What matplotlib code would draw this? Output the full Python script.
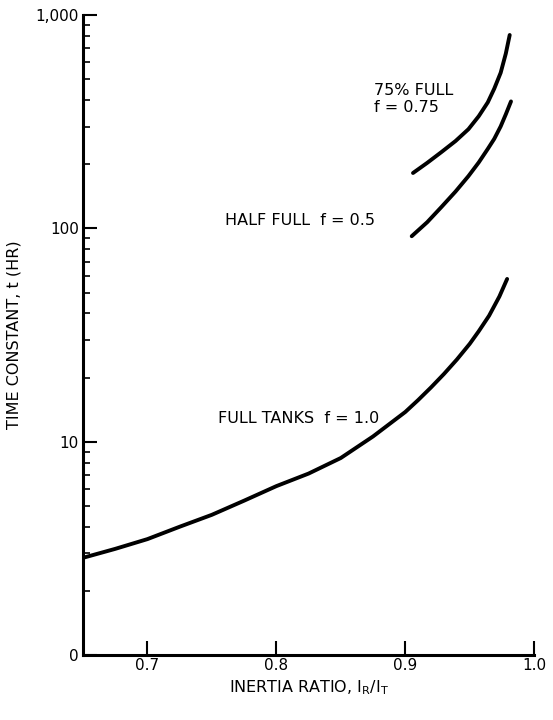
import matplotlib
matplotlib.use('Agg')
import matplotlib.pyplot as plt
from matplotlib.ticker import FixedLocator, FixedFormatter, LogLocator, NullFormatter

# curves (inertia ratio, time constant in hr)
full_x = [0.65, 0.675, 0.70, 0.725, 0.75, 0.775, 0.80, 0.825, 0.85, 0.875,
          0.90, 0.91, 0.92, 0.93, 0.94, 0.95, 0.957, 0.965, 0.973, 0.979]
full_y = [2.86, 3.15, 3.5, 4.0, 4.55, 5.3, 6.2, 7.1, 8.4, 10.6,
          13.8, 15.7, 18.0, 20.8, 24.3, 28.8, 33.0, 39.0, 48.0, 58.0]
half_x = [0.905, 0.917, 0.928, 0.939, 0.949, 0.957, 0.964, 0.969, 0.974, 0.978, 0.982]
half_y = [92, 107, 126, 149, 176, 204, 236, 263, 301, 343, 394]
q75_x = [0.906, 0.917, 0.928, 0.939, 0.949, 0.957, 0.964, 0.969, 0.974, 0.978, 0.981]
q75_y = [182, 203, 228, 257, 292, 336, 390, 452, 537, 661, 807]

xticks = [0.7, 0.8, 0.9, 1.0]
xtick_labels = ['0.7', '0.8', '0.9', '1.0']
yticks = [1, 10, 100, 1000]
ytick_labels = ['0', '10', '100', '1,000']

plt.rcParams['font.family'] = ['DejaVu Sans']

fig = plt.figure(figsize=(5.53, 7.2), dpi=100)
ax = fig.add_axes([0.150, 0.090, 0.816, 0.889])

for xs, ys in [(full_x, full_y), (half_x, half_y), (q75_x, q75_y)]:
    ax.plot(xs, ys, color='black', lw=2.8, solid_capstyle='round', solid_joinstyle='round')

ax.set_yscale('log')
ax.set_xlim(0.65, 1.0)
ax.set_ylim(1, 1000)

ax.xaxis.set_major_locator(FixedLocator(xticks))
ax.xaxis.set_major_formatter(FixedFormatter(xtick_labels))
ax.yaxis.set_major_locator(FixedLocator(yticks))
ax.yaxis.set_major_formatter(FixedFormatter(ytick_labels))
ax.yaxis.set_minor_locator(LogLocator(base=10, subs=range(2, 10)))
ax.yaxis.set_minor_formatter(NullFormatter())

ax.tick_params(axis='both', which='major', direction='in', length=10, width=1.5,
               labelsize=11, pad=3)
ax.tick_params(axis='y', which='minor', direction='in', length=5, width=1.2)
ax.tick_params(axis='x', which='major', pad=2)

for side in ['top', 'right']:
    ax.spines[side].set_visible(False)
for side in ['left', 'bottom']:
    ax.spines[side].set_linewidth(2.2)

ax.set_xlabel(r'INERTIA RATIO, I$_\mathregular{R}$/I$_\mathregular{T}$', fontsize=11.5, labelpad=4)
ax.set_ylabel('TIME CONSTANT, t (HR)', fontsize=11.5, labelpad=10)

ax.text(0.755, 12.8, 'FULL TANKS  f = 1.0', fontsize=11.5, va='center', ha='left')
ax.text(0.760, 109, 'HALF FULL  f = 0.5', fontsize=11.5, va='center', ha='left')
ax.text(0.876, 405, '75% FULL\nf = 0.75', fontsize=11.5, va='center', ha='left',
        linespacing=1.2)

fig.savefig('out.png', dpi=100)
